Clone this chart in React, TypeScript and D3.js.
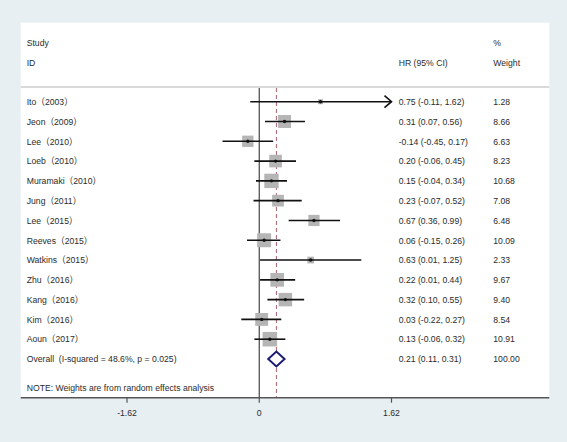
import React from "react";
import * as d3 from "d3";

const studies = [
  "Ito（2003）", "Jeon（2009）", "Lee（2010）", "Loeb（2010）", "Muramaki（2010）",
  "Jung（2011）", "Lee（2015）", "Reeves（2015）", "Watkins（2015）", "Zhu（2016）",
  "Kang（2016）", "Kim（2016）", "Aoun（2017）",
];
const hr = [0.75, 0.31, -0.14, 0.2, 0.15, 0.23, 0.67, 0.06, 0.63, 0.22, 0.32, 0.03, 0.13];
const lo = [-0.11, 0.07, -0.45, -0.06, -0.04, -0.07, 0.36, -0.15, 0.01, 0.01, 0.1, -0.22, -0.06];
const hi = [1.62, 0.56, 0.17, 0.45, 0.34, 0.52, 0.99, 0.26, 1.25, 0.44, 0.55, 0.27, 0.32];
const weights = [1.28, 8.66, 6.63, 8.23, 10.68, 7.08, 6.48, 10.09, 2.33, 9.67, 9.4, 8.54, 10.91];
const overallLabel = "Overall  (I-squared = 48.6%, p = 0.025)";
const overall = { hr: 0.21, lo: 0.11, hi: 0.31, weight: "100.00" };
const tickValues = [-1.62, 0, 1.62];
const tickLabels = ["-1.62", "0", "1.62"];
const note = "NOTE: Weights are from random effects analysis";

const W = 567, H = 442;
const panel = { x: 20.7, y: 22.7, r: 549.3, b: 397.7 };
const font = "'Liberation Sans', Arial, 'Noto Sans CJK SC', sans-serif";
const fs = 9.3;
const sx = 0.93;
const txt = "#2b2b2b";

const fmt = (v: number) => v.toFixed(2);

function T({ x, y, children, anchor = "start" }: { x: number; y: number; children: any; anchor?: string }) {
  return (
    <text transform={`translate(${x},${y}) scale(${sx},1)`} dy="0.35em" fill={txt} textAnchor={anchor}
      style={{ whiteSpace: "pre" }}>
      {children}
    </text>
  );
}

export default function App() {
  const x = d3.scaleLinear().domain([-1.62, 1.62]).range([127, 391.5]);
  const y = d3.scaleLinear().domain([0, 13]).range([101.7, 359]);
  const boxSide = (w: number) => 4.4 * Math.sqrt(w);
  const sepY = 87;
  const colHR = 398.7;
  const colW = 493.3;
  const colL = 26.7;
  const oy = y(studies.length);

  return (
    <svg width={W} height={H} style={{ position: "absolute", left: 0, top: 0, display: "block" }}
      fontFamily={font} fontSize={fs}>
      <rect x={0} y={0} width={W} height={H} fill="#e8eff3" />
      <rect x={panel.x} y={panel.y} width={panel.r - panel.x} height={panel.b - panel.y} fill="#ffffff" />
      {/* headers */}
      <T x={colL} y={43}>Study</T>
      <T x={colL} y={63}>ID</T>
      <T x={colHR} y={63}>HR (95% CI)</T>
      <T x={colW} y={43}>%</T>
      <T x={colW} y={63}>Weight</T>
      <line x1={panel.x} x2={panel.r} y1={sepY} y2={sepY} stroke="#d9d9d9" strokeWidth={2} />
      {/* reference lines */}
      <line x1={x(0)} x2={x(0)} y1={sepY + 1} y2={panel.b} stroke="#444" strokeWidth={1.2} />
      <line x1={x(overall.hr)} x2={x(overall.hr)} y1={sepY + 1} y2={panel.b} stroke="#a8606e"
        strokeWidth={1} strokeDasharray="4,3" />
      {/* studies */}
      {studies.map((s, i) => {
        const cy = y(i);
        const side = boxSide(weights[i]);
        const clipped = hi[i] >= 1.62;
        const xEnd = x(Math.min(hi[i], 1.62));
        return (
          <g key={i}>
            <T x={colL} y={cy}>{s}</T>
            <rect x={x(hr[i]) - side / 2} y={cy - side / 2} width={side} height={side} fill="#b5b5b5" />
            <line x1={x(lo[i])} x2={xEnd} y1={cy} y2={cy} stroke="#111" strokeWidth={1.6} />
            {clipped && (
              <path d={`M${xEnd - 7},${cy - 6} L${xEnd},${cy} L${xEnd - 7},${cy + 6}`} fill="none"
                stroke="#111" strokeWidth={1.6} />
            )}
            <circle cx={x(hr[i])} cy={cy} r={1.7} fill="#111" />
            <T x={colHR} y={cy}>{`${fmt(hr[i])} (${fmt(lo[i])}, ${fmt(hi[i])})`}</T>
            <T x={colW} y={cy}>{fmt(weights[i])}</T>
          </g>
        );
      })}
      {/* overall */}
      <T x={colL} y={oy}>{overallLabel}</T>
      <path
        d={`M${x(overall.lo)},${oy} L${x(overall.hr)},${oy - 7.5} L${x(overall.hi)},${oy} L${x(overall.hr)},${oy + 7.5} Z`}
        fill="#fff" stroke="#1c1c72" strokeWidth={2} />
      <T x={colHR} y={oy}>{`${fmt(overall.hr)} (${fmt(overall.lo)}, ${fmt(overall.hi)})`}</T>
      <T x={colW} y={oy}>{overall.weight}</T>
      <T x={colL} y={388}>{note}</T>
      {/* axis */}
      <line x1={panel.x} x2={panel.r} y1={panel.b} y2={panel.b} stroke="#555" strokeWidth={1.5} />
      {tickValues.map((t, i) => (
        <g key={t}>
          <line x1={x(t)} x2={x(t)} y1={panel.b} y2={panel.b + 5} stroke="#555" strokeWidth={1.2} />
          <T x={x(t)} y={413} anchor="middle">{tickLabels[i]}</T>
        </g>
      ))}
    </svg>
  );
}
